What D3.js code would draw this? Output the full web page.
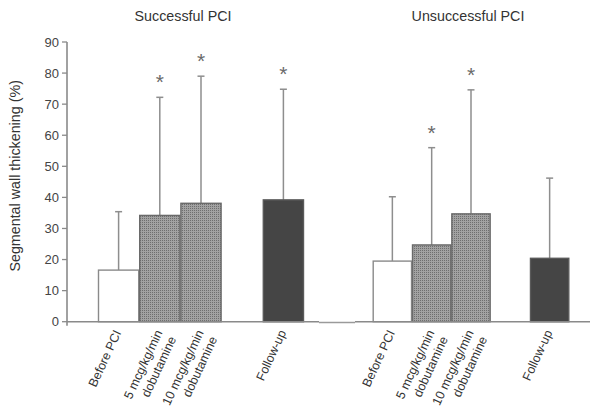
<!DOCTYPE html>
<html>
<head>
<meta charset="utf-8">
<script src="https://cdn.jsdelivr.net/npm/d3@7"></script>
<style>
  body { margin: 0; background: #fff; }
  svg { display: block; font-family: "Liberation Sans", Arial, sans-serif; }
</style>
</head>
<body>
<svg id="mainsvg" width="590" height="406"></svg>
<script>
// data
const groups = ["Successful PCI", "Unsuccessful PCI"]
const categories = ["Before PCI", "5 mcg/kg/min|dobutamine", "10 mcg/kg/min|dobutamine", "Follow-up"]
const successMean = [16.6, 34.2, 38.1, 39.2]
const successSD = [18.8, 38.0, 40.9, 35.6]
const successSig = [false, true, true, true]
const failMean = [19.5, 24.7, 34.7, 20.4]
const failSD = [20.7, 31.3, 39.9, 25.8]
const failSig = [false, true, true, false]
const yTicks = [0, 10, 20, 30, 40, 50, 60, 70, 80, 90]

const svg = d3.select('#mainsvg')
const axisColor = '#8a8a8a'

// dotted halftone fill for dobutamine bars
const defs = svg.append('defs')
const pat = defs.append('pattern')
  .attr('id', 'dots')
  .attr('patternUnits', 'userSpaceOnUse')
  .attr('width', 2).attr('height', 2)
pat.append('rect').attr('width', 2).attr('height', 2).attr('fill', '#a2a2a2')
pat.append('rect').attr('width', 1).attr('height', 1).attr('fill', '#6e6e6e')

const y = d3.scaleLinear().domain([0, 90]).range([321.7, 42])

// slot "gap" sits between the dobutamine bars and follow-up
const slots = ["Before PCI", "5 mcg/kg/min|dobutamine", "10 mcg/kg/min|dobutamine", "gap", "Follow-up"]
const xs = [
  d3.scaleBand().domain(slots).range([98, 304]).paddingInner(0),
  d3.scaleBand().domain(slots).range([372.7, 569.3]).paddingInner(0)
]
const means = [successMean, failMean]
const sds = [successSD, failSD]
const sigs = [successSig, failSig]
const fills = ['#ffffff', 'url(#dots)', 'url(#dots)', '#454545']
const strokes = ['#8a8a8a', '#6a6a6a', '#6a6a6a', '#5a5a5a']

// y axis
svg.append('line')
  .attr('x1', 67).attr('x2', 67)
  .attr('y1', y(90)).attr('y2', y(0) + 4)
  .attr('stroke', axisColor).attr('stroke-width', 1.6)
const ty = svg.append('g')
ty.selectAll('line').data(yTicks).join('line')
  .attr('x1', 62).attr('x2', 67)
  .attr('y1', d => y(d)).attr('y2', d => y(d))
  .attr('stroke', axisColor).attr('stroke-width', 1.3)
ty.selectAll('text').data(yTicks).join('text')
  .attr('x', 59).attr('y', d => y(d))
  .attr('dy', '0.36em')
  .attr('text-anchor', 'end')
  .attr('font-size', 13)
  .attr('fill', '#444')
  .text(d => d)

svg.append('text')
  .attr('transform', `translate(20,${(y(90) + y(0)) / 2 - 6}) rotate(-90)`)
  .attr('text-anchor', 'middle')
  .attr('font-size', 14.3)
  .attr('fill', '#333')
  .text('Segmental wall thickening (%)')

groups.forEach((gname, gi) => {
  const x = xs[gi]
  const g = svg.append('g')
  const cx = c => x(c) + x.bandwidth() / 2

  // title
  g.append('text')
    .attr('x', (x.range()[0] + x.range()[1]) / 2 - (gi === 0 ? 18 : 3))
    .attr('y', 21)
    .attr('text-anchor', 'middle')
    .attr('font-size', 14.3)
    .attr('fill', '#333')
    .text(gname)

  const rows = categories.map((c, i) => ({c, i, m: means[gi][i], sd: sds[gi][i], sig: sigs[gi][i]}))

  // error bars (upper only)
  g.selectAll('.err').data(rows).join('line')
    .attr('x1', d => cx(d.c)).attr('x2', d => cx(d.c))
    .attr('y1', d => y(d.m)).attr('y2', d => y(d.m + d.sd))
    .attr('stroke', '#8e8e8e').attr('stroke-width', 1.5)
  g.selectAll('.cap').data(rows).join('line')
    .attr('x1', d => cx(d.c) - 3.5).attr('x2', d => cx(d.c) + 3.5)
    .attr('y1', d => y(d.m + d.sd)).attr('y2', d => y(d.m + d.sd))
    .attr('stroke', '#8e8e8e').attr('stroke-width', 1.5)

  // bars
  g.selectAll('.bar').data(rows).join('rect')
    .attr('x', d => x(d.c) + 0.5)
    .attr('y', d => y(d.m))
    .attr('width', x.bandwidth() - 1)
    .attr('height', d => y(0) - y(d.m))
    .attr('fill', d => fills[d.i])
    .attr('stroke', d => strokes[d.i])
    .attr('stroke-width', 1.4)

  // significance stars
  g.selectAll('.star').data(rows.filter(d => d.sig)).join('text')
    .attr('x', d => cx(d.c))
    .attr('y', d => y(d.m + d.sd) - 8)
    .attr('text-anchor', 'middle')
    .attr('font-size', 21)
    .attr('fill', '#6a6a6a')
    .text('*')

  // rotated category labels
  rows.forEach(d => {
    const lines = d.c.split('|')
    const t = g.append('text')
      .attr('transform', `translate(${cx(d.c) - 1},${y(0) + 9}) rotate(-65)`)
      .attr('text-anchor', 'end')
      .attr('font-size', 12.5)
      .attr('fill', '#333')
    lines.forEach((l, li) => {
      t.append('tspan')
        .attr('x', 0)
        .attr('dy', li === 0 ? '0.35em' : '1.2em')
        .text(l)
    })
  })
})

// baseline
svg.append('line')
  .attr('x1', 67).attr('x2', 319)
  .attr('y1', y(0)).attr('y2', y(0))
  .attr('stroke', axisColor).attr('stroke-width', 1.6)
svg.append('line')
  .attr('x1', 319).attr('x2', 355)
  .attr('y1', y(0) + 0.8).attr('y2', y(0) + 0.8)
  .attr('stroke', '#9a9a9a').attr('stroke-width', 1.6)
svg.append('line')
  .attr('x1', 355).attr('x2', 590)
  .attr('y1', y(0)).attr('y2', y(0))
  .attr('stroke', axisColor).attr('stroke-width', 1.6)
</script>
</body>
</html>
